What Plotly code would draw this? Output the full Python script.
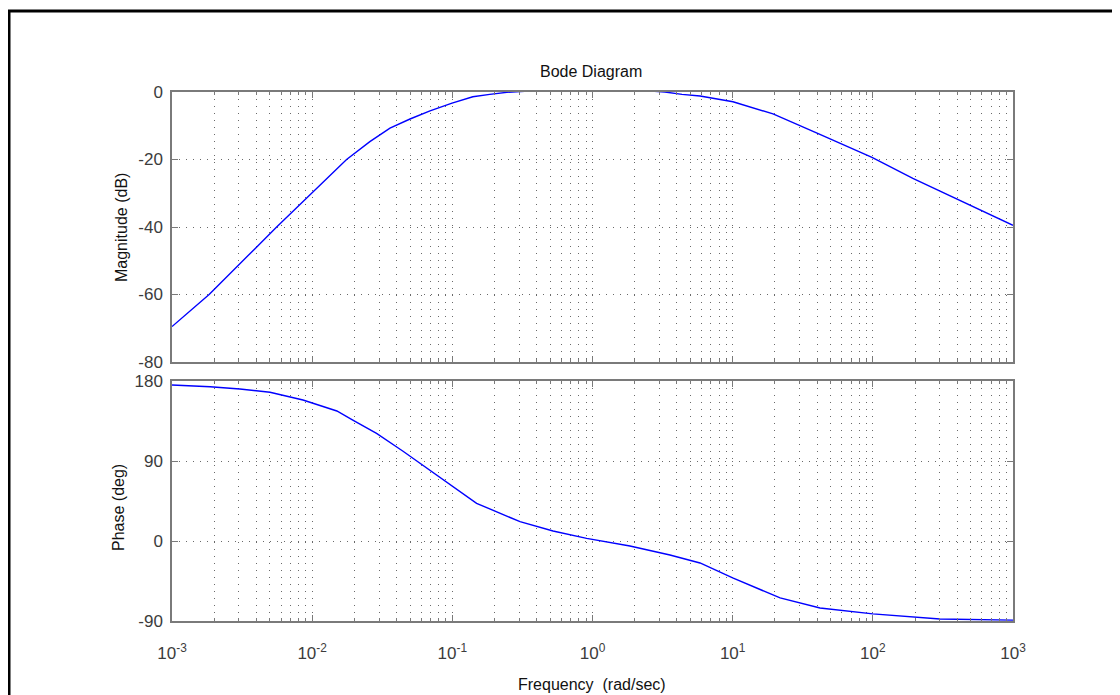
import plotly.graph_objects as go
from plotly.subplots import make_subplots

# ---- data ----
mag_freq = [0.001, 0.00184, 0.00558, 0.01, 0.0176, 0.0258, 0.0359, 0.0499, 0.0693, 0.0995,
            0.140, 0.185, 0.245, 0.358, 1.0, 2.57, 3.29, 4.35, 5.85, 10.05, 19.4, 40.0,
            98.6, 193, 419, 1000]
mag_db = [-69.5, -60.0, -40.0, -29.8, -20.0, -14.7, -10.7, -8.0, -5.6, -3.3,
          -1.4, -0.7, -0.1, 0.3, 0.6, 0.3, 0.0, -0.7, -1.2, -2.9, -6.5, -12.2,
          -19.4, -25.6, -32.2, -39.5]

ph_freq = [0.001, 0.00187, 0.00305, 0.0050, 0.0086, 0.0150, 0.0195, 0.0288, 0.0445, 0.0569,
           0.0962, 0.149, 0.304, 0.523, 0.908, 1.85, 3.57, 5.85, 10.0, 21.8, 42.0, 100, 301, 1000]
ph_deg = [175.5, 173.6, 171.0, 167.3, 158.6, 146.3, 136.0, 121.0, 101.0, 89.0,
          63.0, 42.4, 21.7, 11.2, 3.0, -5.6, -15.7, -24.7, -41.6, -64.0, -75.4, -82.0, -87.8, -89.0]

x_tickvals = [0.001, 0.01, 0.1, 1, 10, 100, 1000]
x_ticktext = ["10<sup>-3</sup>", "10<sup>-2</sup>", "10<sup>-1</sup>", "10<sup>0</sup>",
              "10<sup>1</sup>", "10<sup>2</sup>", "10<sup>3</sup>"]
mag_ticks = [-80, -60, -40, -20, 0]
ph_ticks = [-90, 0, 90, 180]

FONT = "Liberation Sans, Arial, sans-serif"
GREY = "#7a7a7a"
GRID = "#6a6a6a"
TXT = "#3c3c3c"
DOTS = "1px,6px"

W, H = 1120, 695
OFF = 8  # page body margin offset
# target page-pixel positions of the plot area
PL, PR, PT, PB = 172, 1013, 92, 621
L = PL - OFF
R = W - (PR - OFF)
T = PT - OFF
B = H - (PB - OFF)
plot_h = PB - PT
plot_w = PR - PL

def py(y):  # page pixel y -> paper fraction
    return (PB - y) / plot_h

def px(x):
    return (x - PL) / plot_w

fig = make_subplots(rows=2, cols=1, shared_xaxes=True, vertical_spacing=0.0)

fig.add_trace(go.Scatter(x=mag_freq, y=mag_db, mode="lines",
                         line=dict(color="#0000ff", width=1.4), showlegend=False), row=1, col=1)
fig.add_trace(go.Scatter(x=ph_freq, y=ph_deg, mode="lines",
                         line=dict(color="#0000ff", width=1.4), showlegend=False), row=2, col=1)

xcommon = dict(type="log", range=[-3, 3], tickmode="array", tickvals=x_tickvals,
               ticks="inside", ticklen=6, tickcolor=GREY, showline=True, linecolor=GREY,
               linewidth=1.5, mirror="ticks", showgrid=True, gridcolor=GRID, griddash=DOTS,
               gridwidth=1, zeroline=False,
               minor=dict(dtick="D1", ticks="inside", ticklen=3, tickcolor=GREY,
                          showgrid=True, gridcolor=GRID, griddash=DOTS, gridwidth=1))

fig.update_xaxes(**xcommon, showticklabels=False, row=1, col=1)
fig.update_xaxes(**xcommon, showticklabels=True, ticktext=x_ticktext,
                 tickfont=dict(family=FONT, size=17, color=TXT), ticklabelstandoff=16,
                 row=2, col=1)

ycommon = dict(ticks="inside", ticklen=6, tickcolor=GREY, showline=True, linecolor=GREY,
               linewidth=1.5, mirror="ticks", showgrid=True, gridcolor=GRID, griddash=DOTS,
               gridwidth=1, zeroline=False, tickfont=dict(family=FONT, size=17, color=TXT),
               ticklabelstandoff=4)
fig.update_yaxes(**ycommon, range=[-80, 0], tickvals=mag_ticks, ticktext=[str(v) for v in mag_ticks],
                 domain=[py(362), 1.0], row=1, col=1)
fig.update_yaxes(**ycommon, range=[-90, 180], tickvals=ph_ticks, ticktext=[str(v) for v in ph_ticks],
                 domain=[0.0, py(381)], row=2, col=1)

ann = []
ann.append(dict(text="Bode Diagram", x=px(591), y=py(71), xref="paper", yref="paper",
                showarrow=False, font=dict(family=FONT, size=16, color="#111111"),
                xanchor="center", yanchor="middle"))
ann.append(dict(text="Magnitude (dB)", x=px(121), y=py(228), xref="paper", yref="paper",
                showarrow=False, textangle=-90, font=dict(family=FONT, size=16, color="#111111"),
                xanchor="center", yanchor="middle"))
ann.append(dict(text="Phase (deg)", x=px(118), y=py(508), xref="paper", yref="paper",
                showarrow=False, textangle=-90, font=dict(family=FONT, size=16, color="#111111"),
                xanchor="center", yanchor="middle"))
ann.append(dict(text="Frequency  (rad/sec)", x=px(592), y=py(684), xref="paper", yref="paper",
                showarrow=False, font=dict(family=FONT, size=16, color="#111111"),
                xanchor="center", yanchor="middle"))

shapes = [dict(type="rect", xref="paper", yref="paper",
               x0=px(9), x1=px(1118.5), y0=py(730), y1=py(11),
               line=dict(color="black", width=3), fillcolor="rgba(0,0,0,0)", layer="above")]

fig.update_layout(width=W, height=H, margin=dict(l=L, r=R, t=T, b=B),
                  paper_bgcolor="white", plot_bgcolor="white",
                  annotations=ann, shapes=shapes, showlegend=False,
                  font=dict(family=FONT, color=TXT))

fig.write_html("out.html")
